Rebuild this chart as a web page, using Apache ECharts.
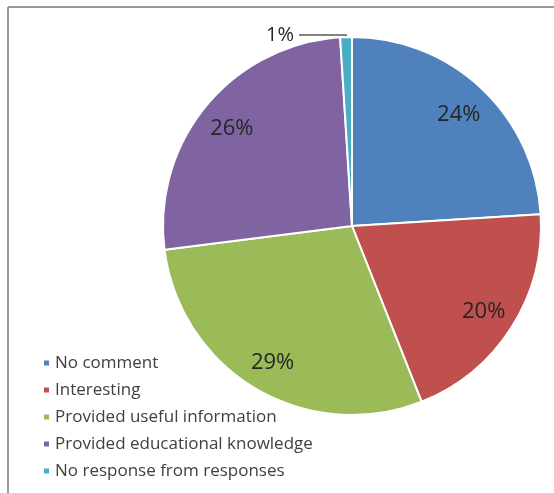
<!DOCTYPE html>
<html>
<head>
<meta charset="utf-8">
<script src="https://cdn.jsdelivr.net/npm/echarts@6/dist/echarts.min.js"></script>
<style>
  html, body { margin: 0; padding: 0; background: #ffffff; }
  #chart { width: 554px; height: 493px; }
</style>
</head>
<body>
<div id="chart"></div>
<script>
// Survey responses, in percent
const categories = [
  'No comment',
  'Interesting',
  'Provided useful information',
  'Provided educational knowledge',
  'No response from responses'
];
const shares = [24, 20, 29, 26, 1];
const colors = ['#4F81BD', '#C0504D', '#9BBB59', '#8064A2', '#4BACC6'];

const chart = echarts.init(document.getElementById('chart'));

const center = [352, 226];
const outerR = 189;
const font = '"Open Sans", "Liberation Sans", sans-serif';

const pieData = categories.map((name, i) => ({
  name,
  value: shares[i],
  itemStyle: { color: colors[i] }
}));

chart.setOption({
  animation: false,
  graphic: [
    { type: 'line', shape: { x1: 8, y1: 7, x2: 554, y2: 7 },
      style: { stroke: '#9a9a9a', lineWidth: 2 } },
    { type: 'line', shape: { x1: 8, y1: 7, x2: 8, y2: 493 },
      style: { stroke: '#9a9a9a', lineWidth: 2 } }
  ],
  legend: {
    orient: 'vertical',
    left: 37,
    top: 348,
    itemWidth: 7,
    itemHeight: 7,
    itemGap: 7,
    icon: 'rect',
    data: categories,
    textStyle: { fontFamily: font, fontSize: 17, color: '#404040', lineHeight: 20 }
  },
  series: [
    {
      // filled slices, the 1% label sits outside with a leader line
      type: 'pie',
      center,
      radius: [0, outerR],
      startAngle: 90,
      clockwise: true,
      data: pieData.map((d, i) => Object.assign({}, d, {
        label: i === 4 ? { show: true } : { show: false },
        labelLine: i === 4 ? { show: true } : { show: false }
      })),
      itemStyle: { borderColor: '#ffffff', borderWidth: 2 },
      label: {
        position: 'outside',
        formatter: '{c}%',
        fontFamily: font,
        fontSize: 20,
        color: '#262626'
      },
      labelLine: {
        length: 2,
        length2: 47,
        lineStyle: { color: '#595959', width: 1.5 }
      },
      emphasis: { disabled: true }
    },
    {
      // ring used only to place the percentage labels near the rim
      type: 'pie',
      center,
      radius: [117, outerR],
      startAngle: 90,
      clockwise: true,
      silent: true,
      data: pieData.map((d, i) => ({
        name: d.name,
        value: d.value,
        itemStyle: { color: 'rgba(0,0,0,0)' },
        label: { show: i !== 4 }
      })),
      itemStyle: { borderWidth: 0 },
      label: {
        position: 'inside',
        formatter: '{c}%',
        fontFamily: font,
        fontSize: 22,
        color: '#262626',
        offset: [0, 2]
      },
      labelLine: { show: false },
      emphasis: { disabled: true },
      legendHoverLink: false
    }
  ]
});
</script>
</body>
</html>
